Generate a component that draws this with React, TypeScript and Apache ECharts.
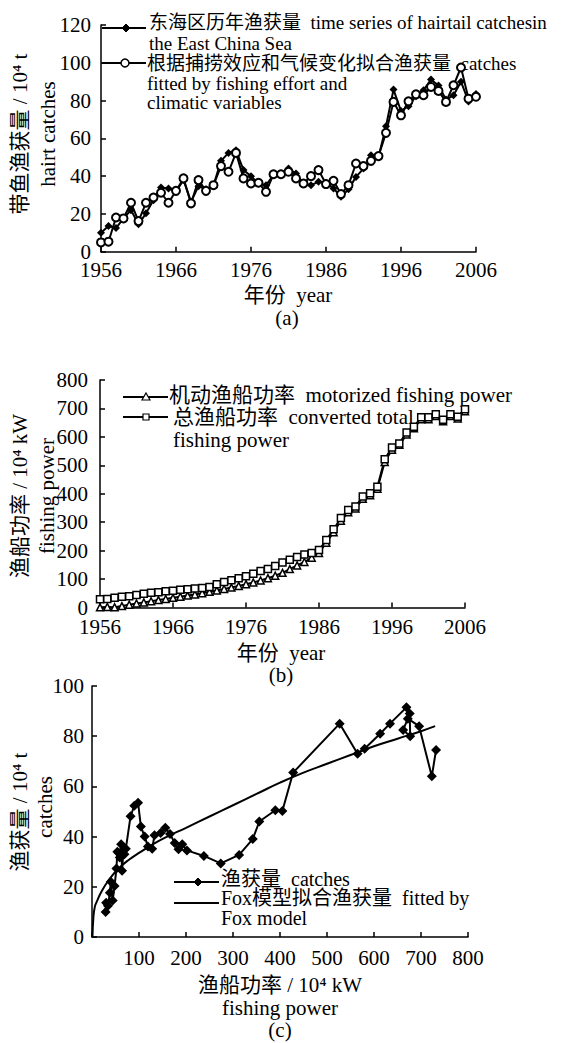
import React, { useEffect, useRef } from "react";
import * as echarts from "echarts";

const FONT = "Liberation Serif, Noto Sans CJK SC";

// ---------- Panel (a): catches by year ----------
const yearsA = [
  1956, 1957, 1958, 1959, 1960, 1961, 1962, 1963, 1964, 1965,
  1966, 1967, 1968, 1969, 1970, 1971, 1972, 1973, 1974, 1975,
  1976, 1977, 1978, 1979, 1980, 1981, 1982, 1983, 1984, 1985,
  1986, 1987, 1988, 1989, 1990, 1991, 1992, 1993, 1994, 1995,
  1996, 1997, 1998, 1999, 2000, 2001, 2002, 2003, 2004, 2005, 2006,
];
const observedA = [
  10.0, 13.6, 12.5, 17.6, 22.0, 14.5, 20.3, 27.3, 34.0, 33.5,
  31.7, 38.0, 26.4, 34.7, 33.0, 35.2, 48.1, 52.3, 53.7, 43.2,
  40.0, 36.1, 35.2, 40.5, 41.4, 44.0, 41.4, 36.1, 35.2, 37.0,
  36.5, 33.5, 29.1, 33.0, 39.6, 44.0, 51.1, 50.2, 66.4, 85.8,
  74.5, 77.0, 82.3, 85.5, 91.1, 88.0, 80.5, 82.8, 90.0, 79.5, 83.5,
];
const fittedA = [
  4.9, 5.3, 18.1, 17.6, 25.9, 16.2, 25.9, 28.7, 31.2, 25.9,
  32.2, 38.8, 25.6, 37.9, 32.2, 35.2, 45.3, 42.3, 52.3, 38.8,
  36.1, 36.5, 31.7, 41.0, 41.0, 42.3, 38.8, 36.1, 40.0, 43.2,
  35.8, 37.5, 30.5, 35.2, 46.7, 45.3, 48.1, 50.6, 62.9, 79.3,
  72.2, 79.6, 83.3, 82.8, 87.2, 85.1, 79.3, 88.1, 97.5, 81.0, 82.0,
];

// ---------- Panel (b): fishing power by year ----------
const motorizedB = [
  0.5, 2, 1, 5, 10, 14, 18, 22, 26, 30,
  34, 38, 42, 46, 50, 55, 60, 65, 70, 76,
  82, 88, 95, 103, 112, 122, 135, 148, 160, 175,
  192, 228, 265, 305, 335, 348, 382, 395, 418, 512,
  555, 572, 608, 630, 662, 662, 673, 655, 673, 665, 690,
];
const totalB = [
  29, 30, 34, 38, 40, 44, 48, 52, 54, 57,
  59, 62, 64, 67, 69, 72, 82, 90, 96, 103,
  110, 119, 128, 135, 146, 158, 168, 178, 186, 192,
  202, 237, 275, 315, 343, 355, 390, 402, 425, 521,
  563, 577, 615, 636, 669, 669, 680, 660, 680, 671, 697,
];

// ---------- Panel (c): catches vs fishing power ----------
const powerC = [
  29, 30, 34, 38, 40, 44, 48, 52, 54, 57,
  59, 62, 64, 67, 69, 72, 82, 90, 98, 104,
  112, 119, 128, 133, 146, 156, 166, 176, 184, 192,
  202, 238, 274, 313, 342, 356, 390, 405, 428, 527,
  565, 580, 613, 634, 669, 676, 677, 662, 672, 696, 723, 732,
];
const catchesC = [
  10.0, 13.6, 12.5, 17.6, 22.0, 14.5, 20.3, 27.3, 34.0, 33.5,
  31.7, 37.0, 26.4, 34.7, 33.0, 35.2, 48.1, 52.3, 53.5, 44.0,
  40.0, 36.1, 35.2, 40.5, 41.4, 43.5, 41.0, 37.5, 35.0, 37.0,
  34.5, 32.3, 29.3, 32.7, 39.0, 46.0, 50.5, 50.2, 65.5, 85.0,
  73.0, 75.0, 81.0, 85.0, 91.5, 89.0, 80.0, 82.5, 87.0, 84.0, 64.0, 74.5,
];
const foxPower = [1, 3, 6, 10, 20, 35, 55, 80, 100, 130, 160, 200, 250, 300, 350, 400, 450, 500, 550, 600, 650, 700, 730];
const foxCatch = [0, 8, 12, 14, 18, 22.5, 27, 31, 33.5, 37, 40, 43.5, 48, 52.5, 57, 61.5, 65.5, 69, 72.5, 76, 79, 82, 84];

const axisLineStyle = { color: "#000", width: 1.5 };
const baseAxis = (fontSize = 21, margin = 8) => ({
  axisLine: { show: true, onZero: false, lineStyle: axisLineStyle },
  axisTick: { show: true, inside: true, length: 5, lineStyle: axisLineStyle },
  splitLine: { show: false },
  axisLabel: { color: "#000", fontSize, fontFamily: FONT, margin, formatter: (v: number) => String(v) },
});

const txt = (
  text: string,
  x: number,
  y: number,
  size: number,
  align: "left" | "center" | "right" = "left",
  rotation = 0,
) => ({
  type: "text",
  x,
  y,
  rotation,
  silent: true,
  style: {
    text,
    fontSize: size,
    fontFamily: FONT,
    fill: "#000",
    textAlign: align,
    textVerticalAlign: "middle",
  },
});

const hline = (x1: number, x2: number, y: number) => ({
  type: "line",
  silent: true,
  shape: { x1, y1: y, x2, y2: y },
  style: { stroke: "#000", lineWidth: 2 },
});

const diamond = (cx: number, cy: number, r: number) => ({
  type: "polygon",
  silent: true,
  shape: { points: [[cx, cy - r], [cx + r, cy], [cx, cy + r], [cx - r, cy]] },
  style: { fill: "#000", stroke: "#000", lineWidth: 1 },
});

export default function App() {
  const ref = useRef<HTMLDivElement>(null);

  useEffect(() => {
    if (!ref.current) return;
    const chart = echarts.init(ref.current, undefined, { renderer: "svg" });

    const option: any = {
      animation: false,
      backgroundColor: "#fff",
      grid: [
        { left: 101, top: 25, width: 375, height: 226.7 },
        { left: 100, top: 380, width: 365, height: 227.5 },
        { left: 92, top: 686, width: 376, height: 251 },
      ],
      xAxis: [
        { type: "value", gridIndex: 0, min: 1956, max: 2006, interval: 10, ...baseAxis(21, 8) },
        { type: "value", gridIndex: 1, min: 1956, max: 2006, interval: 10, ...baseAxis(21, 9) },
        {
          type: "value",
          gridIndex: 2,
          min: 0,
          max: 800,
          interval: 100,
          ...baseAxis(21, 10),
          axisLabel: {
            color: "#000",
            fontSize: 21,
            fontFamily: FONT,
            margin: 10,
            formatter: (v: number) => (v === 0 ? "" : String(v)),
          },
        },
      ],
      yAxis: [
        { type: "value", gridIndex: 0, min: 0, max: 120, interval: 20, ...baseAxis(21, 10) },
        { type: "value", gridIndex: 1, min: 0, max: 800, interval: 100, ...baseAxis(21, 12) },
        { type: "value", gridIndex: 2, min: 0, max: 100, interval: 20, ...baseAxis(21, 8) },
      ],
      series: [
        {
          name: "东海区历年渔获量",
          type: "line",
          xAxisIndex: 0,
          yAxisIndex: 0,
          data: yearsA.map((y, i) => [y, observedA[i]]),
          symbol: "diamond",
          symbolSize: 8,
          itemStyle: { color: "#000" },
          lineStyle: { color: "#000", width: 2 },
        },
        {
          name: "根据捕捞效应和气候变化拟合渔获量",
          type: "line",
          xAxisIndex: 0,
          yAxisIndex: 0,
          data: yearsA.map((y, i) => [y, fittedA[i]]),
          symbol: "circle",
          symbolSize: 8,
          itemStyle: { color: "#fff", borderColor: "#000", borderWidth: 2 },
          lineStyle: { color: "#000", width: 2 },
        },
        {
          name: "机动渔船功率",
          type: "line",
          xAxisIndex: 1,
          yAxisIndex: 1,
          data: yearsA.map((y, i) => [y, motorizedB[i]]),
          symbol: "triangle",
          symbolSize: 7,
          itemStyle: { color: "#fff", borderColor: "#000", borderWidth: 1.5 },
          lineStyle: { color: "#000", width: 2 },
        },
        {
          name: "总渔船功率",
          type: "line",
          xAxisIndex: 1,
          yAxisIndex: 1,
          data: yearsA.map((y, i) => [y, totalB[i]]),
          symbol: "rect",
          symbolSize: 7,
          itemStyle: { color: "#fff", borderColor: "#000", borderWidth: 1.5 },
          lineStyle: { color: "#000", width: 2 },
        },
        {
          name: "Fox模型拟合渔获量",
          type: "line",
          xAxisIndex: 2,
          yAxisIndex: 2,
          data: foxPower.map((p, i) => [p, foxCatch[i]]),
          showSymbol: false,
          symbol: "none",
          smooth: true,
          lineStyle: { color: "#000", width: 2 },
        },
        {
          name: "渔获量",
          type: "line",
          xAxisIndex: 2,
          yAxisIndex: 2,
          data: powerC.map((p, i) => [p, catchesC[i]]),
          symbol: "diamond",
          symbolSize: 10,
          itemStyle: { color: "#000" },
          lineStyle: { color: "#000", width: 2 },
        },
      ],
      graphic: [
        // Panel (a) axis names and caption
        txt("带鱼渔获量 / 10⁴ t", 20, 134, 21, "center", Math.PI / 2),
        txt("hairt catches", 48, 134, 21, "center", Math.PI / 2),
        txt("年份  year", 288, 295, 21, "center"),
        txt("(a)", 287, 318, 21, "center"),
        // Panel (a) legend
        hline(102, 146, 28),
        diamond(126, 28, 4),
        txt("东海区历年渔获量  time series of hairtail catchesin", 149, 22, 19),
        txt("the East China Sea", 149, 43, 19),
        hline(102, 146, 63),
        {
          type: "circle",
          silent: true,
          shape: { cx: 125, cy: 63, r: 4 },
          style: { fill: "#fff", stroke: "#000", lineWidth: 1.5 },
        },
        txt("根据捕捞效应和气候变化拟合渔获量  catches", 147, 63, 19),
        txt("fitted by fishing effort and", 147, 83, 19),
        txt("climatic variables", 147, 102, 19),

        // Panel (b)
        txt("渔船功率 / 10⁴ kW", 20, 496, 21, "center", Math.PI / 2),
        txt("fishing power", 47, 496, 21, "center", Math.PI / 2),
        txt("年份  year", 281, 653, 21, "center"),
        txt("(b)", 281, 675, 21, "center"),
        hline(123, 168, 397),
        {
          type: "polygon",
          silent: true,
          shape: { points: [[146, 393], [150, 400], [142, 400]] },
          style: { fill: "#fff", stroke: "#000", lineWidth: 1.2 },
        },
        txt("机动渔船功率  motorized fishing power", 169, 395, 21),
        hline(123, 168, 417),
        {
          type: "rect",
          silent: true,
          shape: { x: 143, y: 414, width: 6, height: 6 },
          style: { fill: "#fff", stroke: "#000", lineWidth: 1.2 },
        },
        txt("总渔船功率  converted total", 173, 417, 21),
        txt("fishing power", 173, 440, 21),

        // Panel (c)
        txt("渔获量 / 10⁴ t", 20, 812, 21, "center", Math.PI / 2),
        txt("catches", 45, 807, 21, "center", Math.PI / 2),
        txt("渔船功率 / 10⁴ kW", 280, 985, 21, "center"),
        txt("fishing power", 280, 1008, 21, "center"),
        txt("(c)", 280, 1030, 21, "center"),
        hline(174, 219, 882),
        diamond(198, 882, 4),
        txt("渔获量  catches", 221, 879, 20),
        hline(174, 219, 903),
        txt("Fox模型拟合渔获量  fitted by", 221, 898, 20),
        txt("Fox model", 221, 918, 20),
      ],
    };

    chart.setOption(option);
    return () => chart.dispose();
  }, []);

  return (
    <div
      ref={ref}
      style={{ position: "absolute", left: 0, top: 0, width: 563, height: 1043, background: "#fff" }}
    />
  );
}
